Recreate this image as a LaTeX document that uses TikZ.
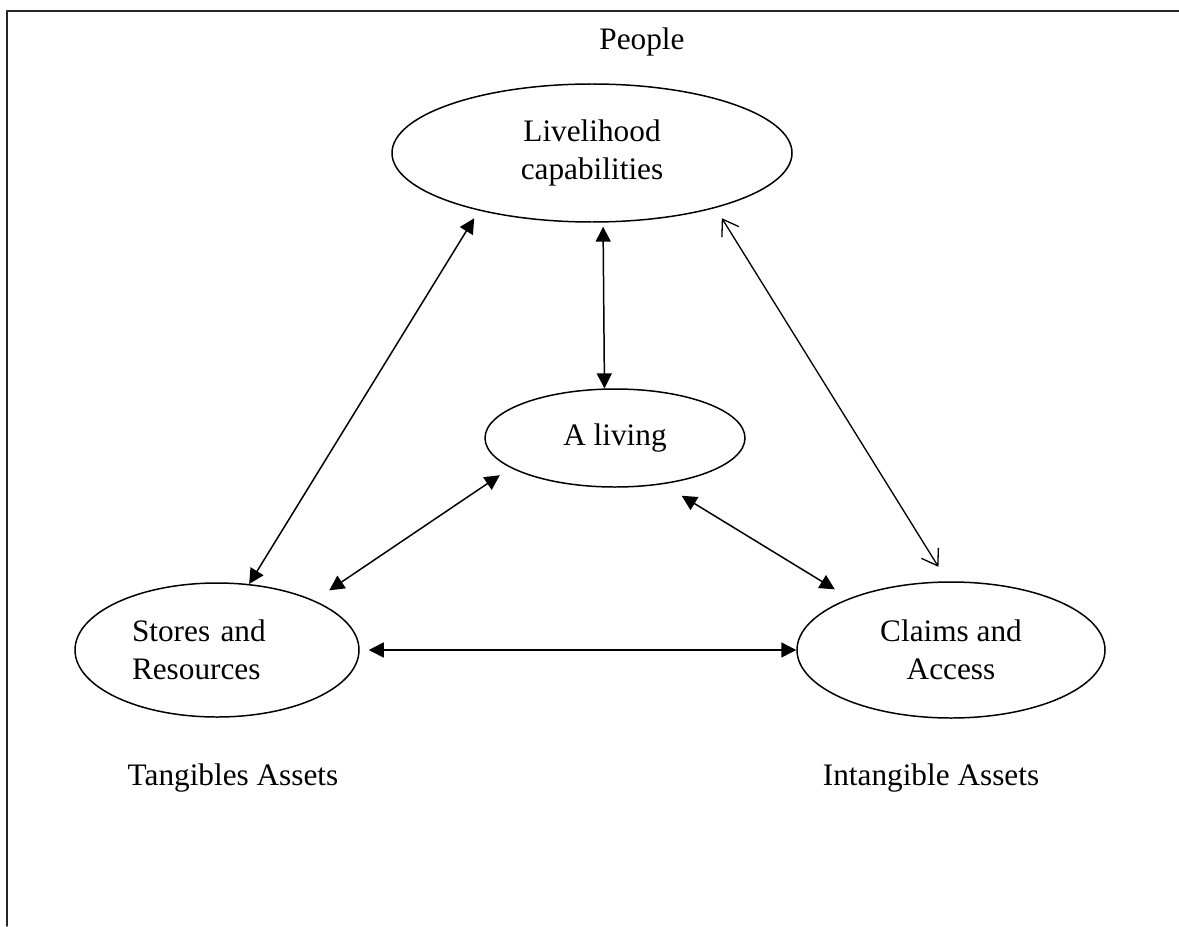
\documentclass[tikz,border=0pt]{standalone}
\usepackage{fontspec}
\setmainfont{Liberation Serif}
\usepackage{tikz}
\usetikzlibrary{positioning,calc,arrows.meta,shapes.geometric}

\begin{document}
\begin{tikzpicture}[
				x=0.02cm,y=-0.02cm,
				line cap=round,line join=round,
				font=\fontsize{17.8}{21.6}\selectfont,
				blob/.style={draw, ellipse, line width=0.85pt, inner sep=0pt, align=center},
				dbl/.style={{Triangle[length=0.3cm,width=0.3cm]}-{Triangle[length=0.3cm,width=0.3cm]}, line width=0.85pt},
				opn/.style={{Straight Barb[length=0.3cm,width=0.4cm]}-{Straight Barb[length=0.3cm,width=0.4cm]}, line width=0.75pt}
				]
				%----- parameters
				\def\px{0.02cm}      % one pixel of the page
				
				\useasboundingbox (0,0) rectangle (1179,926);
				
				%----- page frame (left and top only)
				\draw[black!85, line width=1.5*\px] (7,926) -- (7,11) -- (1179,11);
				
				%----- ellipses
				\node[blob, minimum width=400*\px, minimum height=138*\px] (liv) at (592,153) {Livelihood\\capabilities};
				\node[blob, minimum width=260*\px, minimum height=98*\px] (living) at (615,438) {A living};
				\node[blob, minimum width=284*\px, minimum height=134*\px,
				text width=170*\px, align=left] (stores) at (217,650) {Stores and\\Resources};
				\node[blob, minimum width=308*\px, minimum height=136*\px] (claims) at (951,650) {Claims and\\Access};
				
				%----- free labels
				\node[anchor=base] (people) at (642,50) {People};
				\node[anchor=base] (tang) at (233,785) {Tangibles Assets};
				\node[anchor=base] (intang) at (931,785) {Intangible Assets};
				
				%----- connectors
				\draw[dbl, shorten <=4*\px] (liv.279.9) -- (living.102.7);
				\draw[dbl, shorten >=9*\px] (stores.64.8) -- (liv.207.6);
				\draw[opn, shorten <=12*\px, shorten >=17*\px] (liv.336.7) -- (claims.93.4);
				\draw[dbl, shorten <=18*\px, shorten >=13*\px] (stores.27.8) -- (living.196.1);
				\draw[dbl, shorten <=22*\px, shorten >=17*\px] (living.316.8) -- (claims.153.3);
				\draw[dbl, shorten <=9*\px] (stores.east) -- (claims.west);
				
			\end{tikzpicture}
\end{document}
